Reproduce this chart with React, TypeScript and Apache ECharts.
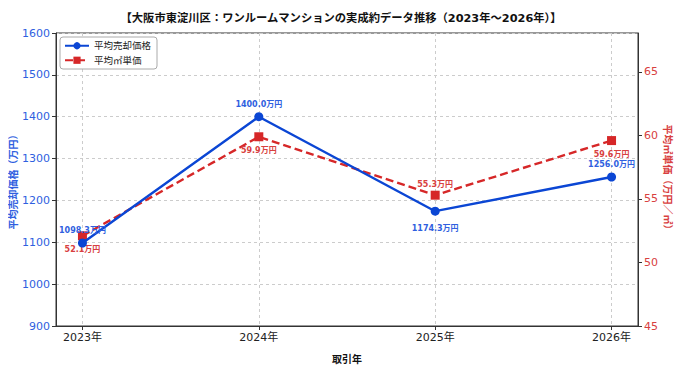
import React, { useEffect, useRef } from "react";
import * as echarts from "echarts";

const years = ["2023年", "2024年", "2025年", "2026年"];
const salePrice = [1098.3, 1400.0, 1174.3, 1256.0];
const unitPrice = [52.1, 59.9, 55.3, 59.6];
const salePriceLabelPos = ["top", "top", "bottom", "top"];
const unitPriceLabelPos = ["bottom", "bottom", "top", "bottom"];
const leftTicks = [900, 1000, 1100, 1200, 1300, 1400, 1500, 1600];
const rightTicks = [45, 50, 55, 60, 65];

const BLUE = "#0b46d4";
const BLUE_TEXT = "#2f5fe0";
const RED = "#d62728";
const RED_TEXT = "#d84040";
const FONT = "'DejaVu Sans', 'Noto Sans CJK JP', sans-serif";

export default function App() {
  const ref = useRef<HTMLDivElement>(null);

  useEffect(() => {
    if (!ref.current) return;
    const chart = echarts.init(ref.current, undefined, { renderer: "svg" });
    const xIdx = years.map((_, i) => i);

    chart.setOption({
      animation: false,
      textStyle: { fontFamily: FONT },
      title: {
        text: "【大阪市東淀川区：ワンルームマンションの実成約データ推移（2023年～2026年）】",
        left: "center",
        top: 8,
        textStyle: { fontSize: 11.3, fontWeight: "bold", color: "#111", fontFamily: FONT },
      },
      legend: {
        left: 60,
        top: 37,
        orient: "vertical",
        itemWidth: 24,
        itemHeight: 9,
        itemGap: 5,
        padding: [4, 6, 4, 4],
        borderColor: "#aaa",
        borderWidth: 1,
        borderRadius: 3,
        backgroundColor: "#fff",
        textStyle: { fontSize: 9.5, color: "#222", fontFamily: FONT },
        data: ["平均売却価格", "平均㎡単価"],
      },
      grid: {
        left: 56,
        right: 44,
        top: 33,
        bottom: 49,
        outerBoundsMode: "none",
        containLabel: false,
        show: true,
        borderColor: "#333",
        borderWidth: 1,
        backgroundColor: "transparent",
      },
      xAxis: {
        type: "value",
        min: -0.15,
        max: 3.15,
        name: "取引年",
        nameLocation: "middle",
        nameGap: 28,
        nameMoveOverlap: false,
        nameTextStyle: { fontSize: 10, fontWeight: "bold", color: "#111" },
        axisLine: { show: true, onZero: false, lineStyle: { color: "#333" } },
        axisTick: { show: true, customValues: xIdx, length: 4, lineStyle: { color: "#333" } },
        axisLabel: {
          customValues: xIdx,
          fontSize: 11,
          color: "#222",
          margin: 6,
          formatter: (v: number) => years[Math.round(v)] ?? "",
        },
        splitLine: { show: true, lineStyle: { color: "#ccc", type: [3, 3] } },
      },
      yAxis: [
        {
          type: "value",
          min: 900,
          max: 1600,
          interval: 100,
          name: "平均売却価格（万円）",
          nameLocation: "middle",
          nameGap: 38,
          nameMoveOverlap: false,
          nameTextStyle: { fontSize: 10, fontWeight: "bold", color: BLUE_TEXT },
          axisLine: { show: true, onZero: false, lineStyle: { color: "#333" } },
          axisTick: { show: true, length: 4, lineStyle: { color: "#333" } },
          axisLabel: {
            customValues: leftTicks,
            fontSize: 11,
            color: BLUE_TEXT,
            margin: 6,
            formatter: (v: number) => String(v),
          },
          splitLine: { show: true, lineStyle: { color: "#ccc", type: [3, 3] } },
        },
        {
          type: "value",
          min: 45,
          max: 68.07,
          position: "right",
          name: "平均㎡単価（万円／㎡）",
          nameLocation: "middle",
          nameRotate: -90,
          nameGap: 25,
          nameMoveOverlap: false,
          nameTextStyle: { fontSize: 10, fontWeight: "bold", color: RED_TEXT },
          axisLine: { show: true, onZero: false, lineStyle: { color: "#333" } },
          axisTick: { show: true, customValues: rightTicks, length: 4, lineStyle: { color: "#333" } },
          axisLabel: {
            customValues: rightTicks,
            fontSize: 11,
            color: RED_TEXT,
            margin: 6,
            formatter: (v: number) => String(v),
          },
          splitLine: { show: false },
        },
      ],
      series: [
        {
          name: "平均売却価格",
          type: "line",
          yAxisIndex: 0,
          symbol: "circle",
          symbolSize: 9,
          z: 3,
          lineStyle: { color: BLUE, width: 2.4 },
          itemStyle: { color: BLUE },
          data: salePrice.map((v, i) => ({
            value: [i, v],
            label: {
              show: true,
              position: salePriceLabelPos[i],
              distance: salePriceLabelPos[i] === "top" ? 4 : 9,
              formatter: `${v.toFixed(1)}万円`,
              fontSize: 8,
              fontWeight: "bold",
              color: BLUE_TEXT,
            },
          })),
        },
        {
          name: "平均㎡単価",
          type: "line",
          yAxisIndex: 1,
          symbol: "rect",
          symbolSize: 9,
          z: 2,
          lineStyle: { color: RED, width: 2.4, type: [8, 4] },
          itemStyle: { color: RED },
          data: unitPrice.map((v, i) => ({
            value: [i, v],
            label: {
              show: true,
              position: unitPriceLabelPos[i],
              distance: unitPriceLabelPos[i] === "top" ? 2 : 5,
              formatter: `${v.toFixed(1)}万円`,
              fontSize: 8,
              fontWeight: "bold",
              color: RED_TEXT,
            },
          })),
        },
      ],
    });

    return () => chart.dispose();
  }, []);

  return <div ref={ref} style={{ width: 682, height: 375, margin: -8 }} />;
}
